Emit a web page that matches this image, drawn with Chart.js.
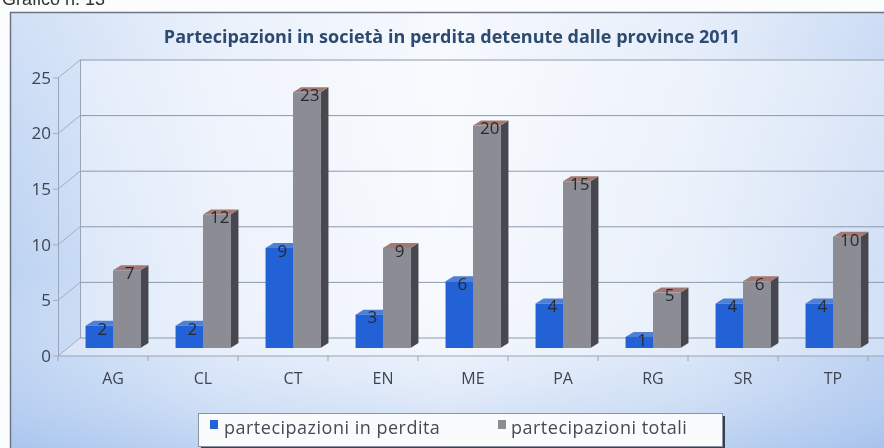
<!DOCTYPE html>
<html lang="it">
<head>
  <meta charset="UTF-8">
  <title>Partecipazioni in perdita</title>
  <script src="https://cdn.jsdelivr.net/npm/chart.js"></script>
  <style>
    body { margin: 0; background: #fff; }
    #wrap { width: 884px; height: 448px; position: relative; }
  </style>
</head>
<body>
  <div id="wrap"><canvas id="chart"></canvas></div>

  <script>
    const categories = ['AG', 'CL', 'CT', 'EN', 'ME', 'PA', 'RG', 'SR', 'TP'];
    const perdita = [2, 2, 9, 3, 6, 4, 1, 4, 4];
    const totali = [7, 12, 23, 9, 20, 15, 5, 6, 10];
    const yTicks = [0, 5, 10, 15, 20, 25];
    const titleText = 'Partecipazioni in società in perdita detenute dalle province 2011';

    // offsets of back wall / front edge from the scale pixels (fake 3D)
    const back = { dx: 12, dy: -10 };
    const front = { dx: -10, dy: 8 };
    const depth = { dx: 8, dy: 5 };

    const faceColors = [
      { side: '#173b86', top: '#4f80d6' },
      { side: '#474750', top: '#a27a72' }
    ];

    function poly(ctx, pts, fill) {
      ctx.beginPath();
      ctx.moveTo(pts[0][0], pts[0][1]);
      for (let i = 1; i < pts.length; i++) ctx.lineTo(pts[i][0], pts[i][1]);
      ctx.closePath();
      ctx.fillStyle = fill;
      ctx.fill();
    }

    const box3d = {
      id: 'box3d',
      beforeDraw(chart) {
        const ctx = chart.ctx;
        const W = chart.width, H = chart.height;
        ctx.save();
        ctx.fillStyle = '#fbfcfe';
        ctx.fillRect(0, 0, W, H);
        const g = ctx.createLinearGradient(10, 0, W, 0);
        g.addColorStop(0, '#bdd3f2');
        g.addColorStop(0.25, '#e3ecfa');
        g.addColorStop(0.5, '#f3f7fd');
        g.addColorStop(0.78, '#dde8f8');
        g.addColorStop(1, '#b9cff1');
        ctx.fillStyle = g;
        ctx.fillRect(10, 12, W - 10, H - 12);
        const v = ctx.createLinearGradient(0, 12, 0, H);
        v.addColorStop(0, 'rgba(255,255,255,0.3)');
        v.addColorStop(0.6, 'rgba(255,255,255,0)');
        v.addColorStop(1, 'rgba(140,178,232,0.4)');
        ctx.fillStyle = v;
        ctx.fillRect(10, 12, W - 10, H - 12);
        // frame
        ctx.strokeStyle = '#6d7484';
        ctx.lineWidth = 1.5;
        ctx.beginPath();
        ctx.moveTo(10.5, H);
        ctx.lineTo(10.5, 12.5);
        ctx.lineTo(W, 12.5);
        ctx.stroke();
        // cut caption above the frame
        ctx.fillStyle = '#333';
        ctx.font = '18px "Liberation Sans", sans-serif';
        ctx.textBaseline = 'alphabetic';
        ctx.textAlign = 'left';
        ctx.fillText('Grafico n. 13', 2, 5);
        ctx.restore();
      },
      beforeDatasetsDraw(chart) {
        const ctx = chart.ctx;
        const a = chart.chartArea;
        const ys = chart.scales.y;
        const xs = chart.scales.x;
        const y0 = ys.getPixelForValue(0);
        const yTop = ys.getPixelForValue(yTicks[yTicks.length - 1]);
        ctx.save();
        // back wall
        poly(ctx, [[a.left + back.dx, yTop + back.dy], [chart.width, yTop + back.dy],
                   [chart.width, y0 + back.dy], [a.left + back.dx, y0 + back.dy]], 'rgba(255,255,255,0.35)');
        // floor
        poly(ctx, [[a.left + front.dx, y0 + front.dy], [a.left + back.dx, y0 + back.dy],
                   [chart.width, y0 + back.dy], [chart.width, y0 + front.dy]], 'rgba(255,255,255,0.3)');
        ctx.lineWidth = 1;
        yTicks.forEach(t => {
          const y = ys.getPixelForValue(t);
          ctx.strokeStyle = '#8d99ad';
          ctx.beginPath();
          ctx.moveTo(a.left + back.dx, y + back.dy);
          ctx.lineTo(chart.width, y + back.dy);
          ctx.stroke();
          ctx.strokeStyle = '#a0adc2';
          ctx.beginPath();
          ctx.moveTo(a.left + front.dx, y + front.dy);
          ctx.lineTo(a.left + back.dx, y + back.dy);
          ctx.stroke();
          // tick mark
          ctx.beginPath();
          ctx.moveTo(a.left + front.dx - 5, y + front.dy);
          ctx.lineTo(a.left + front.dx, y + front.dy);
          ctx.stroke();
        });
        // axis lines
        ctx.strokeStyle = '#98a4b8';
        ctx.beginPath();
        ctx.moveTo(a.left + back.dx + 0.5, yTop + back.dy);
        ctx.lineTo(a.left + back.dx + 0.5, y0 + back.dy);
        ctx.moveTo(a.left + front.dx + 0.5, yTop + front.dy);
        ctx.lineTo(a.left + front.dx + 0.5, y0 + front.dy);
        ctx.lineTo(chart.width, y0 + front.dy);
        ctx.stroke();
        // category boundary ticks on the floor edge
        const step = xs.getPixelForValue(1) - xs.getPixelForValue(0);
        for (let i = 0; i <= categories.length; i++) {
          const x = xs.getPixelForValue(i) - step / 2 + front.dx;
          ctx.beginPath();
          ctx.moveTo(x, y0 + front.dy);
          ctx.lineTo(x, y0 + front.dy + 5);
          ctx.stroke();
        }
        // side and top faces of the bars
        chart.data.datasets.forEach((ds, di) => {
          const meta = chart.getDatasetMeta(di);
          meta.data.forEach(el => {
            const p = el.getProps(['x', 'y', 'base', 'width'], true);
            const l = p.x - p.width / 2, r = p.x + p.width / 2;
            poly(ctx, [[r, p.y], [r + depth.dx, p.y - depth.dy], [r + depth.dx, p.base - depth.dy], [r, p.base]], faceColors[di].side);
            poly(ctx, [[l, p.y], [l + depth.dx, p.y - depth.dy], [r + depth.dx, p.y - depth.dy], [r, p.y]], faceColors[di].top);
          });
        });
        ctx.restore();
      },
      afterDatasetsDraw(chart) {
        const ctx = chart.ctx;
        const a = chart.chartArea;
        const ys = chart.scales.y;
        const xs = chart.scales.x;
        const y0 = ys.getPixelForValue(0);
        ctx.save();
        // value labels
        ctx.font = '17px "Open Sans", sans-serif';
        ctx.textAlign = 'center';
        ctx.textBaseline = 'middle';
        ctx.fillStyle = '#262a33';
        chart.data.datasets.forEach((ds, di) => {
          const meta = chart.getDatasetMeta(di);
          meta.data.forEach((el, i) => {
            const p = el.getProps(['x', 'y'], true);
            ctx.fillText(String(ds.data[i]), p.x + 3, p.y + 4);
          });
        });
        // y tick labels
        ctx.font = '17px "Open Sans", sans-serif';
        ctx.fillStyle = '#3f4550';
        ctx.textAlign = 'right';
        yTicks.forEach(t => {
          ctx.fillText(String(t), a.left + front.dx - 7, ys.getPixelForValue(t) + front.dy + 1);
        });
        // category labels
        ctx.textAlign = 'center';
        ctx.font = '16px "Open Sans", sans-serif';
        categories.forEach((c, i) => {
          ctx.fillText(c, xs.getPixelForValue(i), y0 + 31);
        });
        // title
        ctx.font = 'bold 18px "Open Sans", sans-serif';
        ctx.fillStyle = '#2d4a70';
        ctx.fillText(titleText, 452, 38);
        // legend
        const lx = 198, ly = 413, lw = 524, lh = 33;
        ctx.fillStyle = '#3b3f4c';
        ctx.fillRect(lx + 3, ly + 3, lw, lh);
        ctx.fillStyle = '#fafbfd';
        ctx.fillRect(lx, ly, lw, lh);
        ctx.strokeStyle = '#8a93a3';
        ctx.lineWidth = 1;
        ctx.strokeRect(lx + 0.5, ly + 0.5, lw, lh);
        ctx.font = '18px "Open Sans", sans-serif';
        ctx.letterSpacing = '0.5px';
        ctx.textAlign = 'left';
        const items = [[210, 224], [498, 511]];
        chart.data.datasets.forEach((ds, di) => {
          ctx.fillStyle = ds.backgroundColor;
          ctx.fillRect(items[di][0], 420, 8, 9);
          ctx.fillStyle = '#454a55';
          ctx.fillText(ds.label, items[di][1], 429);
        });
        ctx.restore();
      }
    };

    new Chart(document.getElementById('chart'), {
      type: 'bar',
      data: {
        labels: categories,
        datasets: [
          { label: 'partecipazioni in perdita', data: perdita, backgroundColor: '#2261d6' },
          { label: 'partecipazioni totali', data: totali, backgroundColor: '#8c8c95' }
        ]
      },
      options: {
        responsive: true,
        maintainAspectRatio: false,
        animation: false,
        layout: { padding: { left: 68, right: 6, top: 70, bottom: 100 } },
        datasets: { bar: { categoryPercentage: 0.61, barPercentage: 1 } },
        plugins: {
          legend: { display: false },
          tooltip: { enabled: false }
        },
        scales: {
          x: { display: false },
          y: { display: false, min: 0, max: 25 }
        }
      },
      plugins: [box3d]
    });
  </script>
</body>
</html>
